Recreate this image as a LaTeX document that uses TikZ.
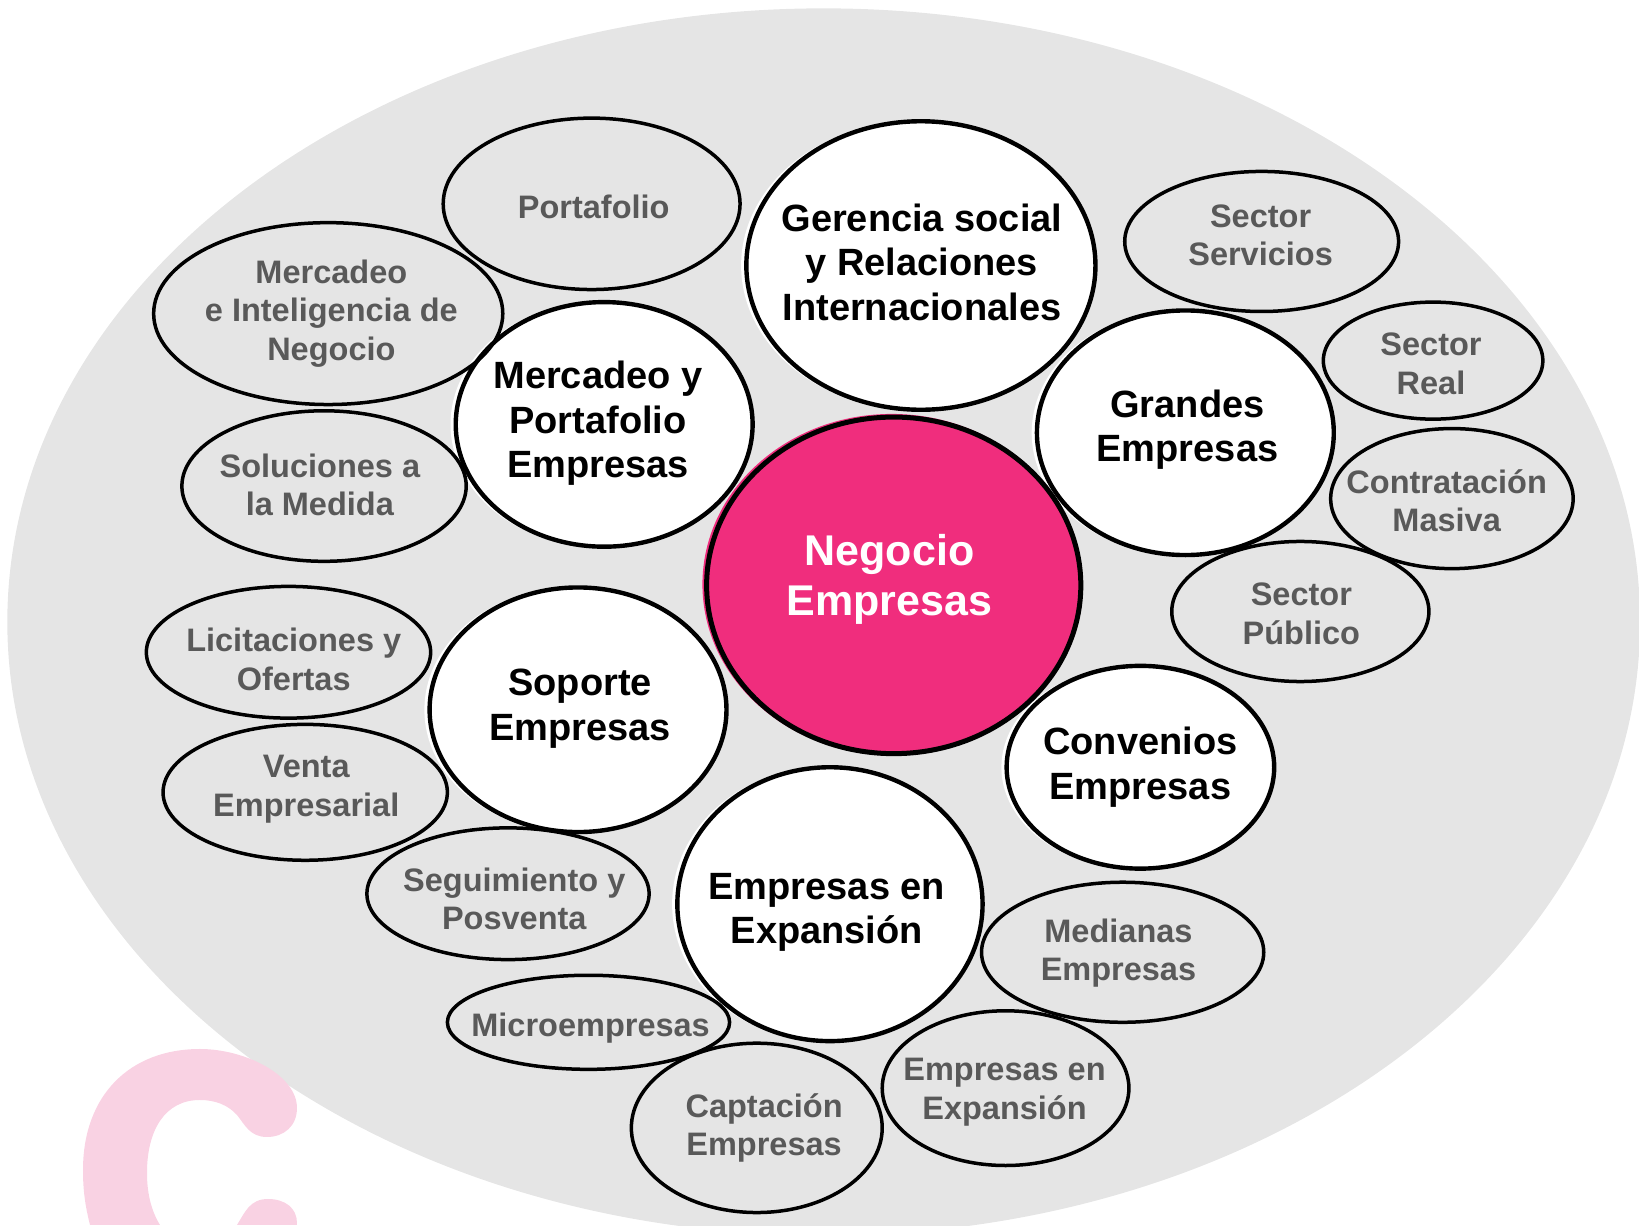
\documentclass[tikz,border=0pt]{standalone}
\usepackage{fontspec}
\setmainfont{Liberation Sans}
\usetikzlibrary{shapes.geometric}
\definecolor{bgGrey}{HTML}{E5E5E5}
\definecolor{hotPink}{HTML}{F02D7D}
\definecolor{softPink}{HTML}{F9D2E3}
\definecolor{subText}{HTML}{595959}
\tikzset{
  x=1.0453pt,y=-1.0453pt,
  sub/.style={ellipse,draw=black,line width=3.5pt,inner sep=0pt,align=center,text=subText,font=\fontsize{32.5}{38.5}\selectfont\bfseries},
  major/.style={ellipse,draw=black,line width=4.4pt,fill=white,inner sep=0pt,align=center,text=black,font=\fontsize{38}{44.5}\selectfont\bfseries},
  centre/.style={ellipse,draw=black,line width=5pt,fill=hotPink,inner sep=0pt,align=center,text=white,font=\fontsize{43}{50}\selectfont\bfseries}
}
\newcommand{\nd}[7]{\node[#1,minimum width=#4*1.0453pt,minimum height=#5*1.0453pt,rotate=#6] (#7) at (#2,#3) {};}
\newcommand{\lb}[5]{\node[#1,draw=none,fill=none,minimum size=0pt] (#5) at (#2,#3) {#4};}
\newcommand{\halo}[4]{\fill[white] (#1-5,#2) ellipse [x radius=#3/2,y radius=#4/2];}
\begin{document}
\begin{tikzpicture}
\useasboundingbox (0,0) rectangle (1568,1172);
\begin{scope}
\clip (0,0) rectangle (1568,1172);
\fill[bgGrey] (788,595) ellipse [x radius=781,y radius=587];
\begin{scope}[x=1pt,y=-1pt]
\fill[softPink] (90,1225) .. controls (85,1205) and (83,1190) .. (83,1170)
  .. controls (83,1095) and (130,1049) .. (200,1049)
  .. controls (245,1049) and (297,1075) .. (297,1108)
  .. controls (297,1126) and (284,1137) .. (267,1137)
  .. controls (250,1137) and (245,1125) .. (237,1115)
  .. controls (228,1105) and (215,1100) .. (200,1100)
  .. controls (165,1100) and (147,1130) .. (147,1173)
  .. controls (147,1195) and (152,1212) .. (160,1225) -- cycle;
\fill[softPink] (237,1225) .. controls (245,1212) and (250,1199) .. (268,1199)
  .. controls (285,1199) and (297,1208) .. (297,1223) -- (297,1225) -- cycle;
\end{scope}
\end{scope}
\halo{881}{254}{334}{276}
\halo{1134}{414}{284}{234}
\halo{578}{406}{284}{234}
\halo{553}{679}{284}{234}
\halo{1091}{734}{256}{194}
\halo{794}{865}{292}{262}
\fill[hotPink] (853,559) ellipse [x radius=181,y radius=163];
\nd{major}{881}{254}{334}{276}{0}{gerE}
\nd{major}{1134}{414}{284}{234}{0}{grandesE}
\nd{major}{578}{406}{284}{234}{0}{mercE}
\nd{major}{553}{679}{284}{234}{0}{soporteE}
\nd{major}{1091}{734}{256}{194}{0}{convE}
\nd{major}{794}{865}{292}{262}{0}{expE}
\nd{centre}{855}{560}{358}{322}{0}{negE}
\nd{sub}{566}{195}{284}{164}{0}{portE}
\nd{sub}{314}{300}{334}{174}{0}{inteE}
\nd{sub}{310}{465}{272}{144}{0}{soluE}
\nd{sub}{276}{624}{272}{126}{0}{liciE}
\nd{sub}{292}{758}{272}{130}{0}{ventE}
\nd{sub}{486}{855}{270}{126}{0}{seguE}
\nd{sub}{563}{978}{270}{90}{0}{microE}
\nd{sub}{724}{1079}{240}{162}{0}{captE}
\nd{sub}{962}{1041}{236}{148}{0}{emprE}
\nd{sub}{1074}{911}{270}{134}{0}{mediE}
\nd{sub}{1244}{585}{246}{134}{0}{publE}
\nd{sub}{1389}{477}{232}{134}{0}{masiE}
\nd{sub}{1371}{345}{210}{112}{0}{realE}
\nd{sub}{1207}{231}{262}{134}{0}{servE}
\lb{major}{882}{251}{Gerencia social\\y Relaciones\\Internacionales}{gerT}
\lb{major}{1136}{411}{Grandes\\Empresas}{grandesT}
\lb{major}{572}{405}{Mercadeo y\\Portafolio\\Empresas}{mercT}
\lb{major}{555}{678}{Soporte\\Empresas}{soporteT}
\lb{major}{1091}{734}{Convenios\\Empresas}{convT}
\lb{major}{791}{873}{Empresas en\\Expansión}{expT}
\lb{centre}{851}{554}{Negocio\\Empresas}{negT}
\lb{sub}{568}{198}{Portafolio}{portT}
\lb{sub}{317}{300}{Mercadeo\\e Inteligencia de\\Negocio}{inteT}
\lb{sub}{306}{464}{Soluciones a\\la Medida}{soluT}
\lb{sub}{281}{631}{Licitaciones y\\Ofertas}{liciT}
\lb{sub}{293}{755}{Venta\\Empresarial}{ventT}
\lb{sub}{492}{860}{Seguimiento y\\Posventa}{seguT}
\lb{sub}{565}{984}{Microempresas}{microT}
\lb{sub}{731}{1079}{Captación\\Empresas}{captT}
\lb{sub}{961}{1045}{Empresas en\\Expansión}{emprT}
\lb{sub}{1070}{912}{Medianas\\Empresas}{mediT}
\lb{sub}{1245}{587}{Sector\\Público}{publT}
\lb{sub}{1384}{479}{Contratación\\Masiva}{masiT}
\lb{sub}{1369}{348}{Sector\\Real}{realT}
\lb{sub}{1206}{225}{Sector\\Servicios}{servT}
\end{tikzpicture}
\end{document}
